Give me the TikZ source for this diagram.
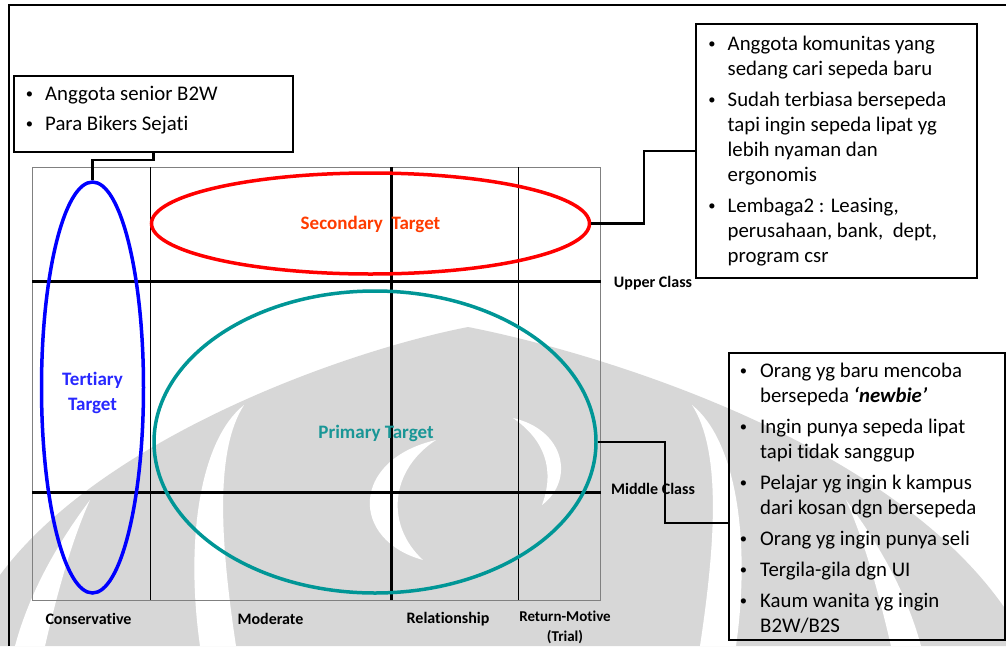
\documentclass[tikz,border=0pt]{standalone}
\usepackage{fontspec}
\setmainfont[Ligatures=NoCommon]{Carlito}
\usetikzlibrary{shapes.geometric,calc}
\definecolor{wm}{RGB}{215,215,215}
\definecolor{tealc}{RGB}{0,150,150}
\definecolor{tealtxt}{RGB}{25,150,150}
\definecolor{redtxt}{RGB}{255,60,0}
\definecolor{bluetxt}{RGB}{40,40,255}
\newcommand\mydot{\raisebox{1.5pt}{\scalebox{0.7}{•}}}
\newcommand\mybul{\llap{\mydot\hspace{12pt}}}
\newcommand\mybulb{\llap{\mydot\hspace{13pt}}}
\begin{document}
\begin{tikzpicture}[x=1pt,y=-1pt,
  box/.style={draw=black, line width=2.4pt, rectangle, inner sep=0pt},
  conn/.style={draw=black, line width=2.4pt},
  btxt/.style={inner sep=0pt, anchor=base west, font=\fontsize{20.8}{25}\selectfont},
  lbl/.style={inner sep=0pt, font=\bfseries\fontsize{16}{18}\selectfont},
  tgt/.style={inner sep=0pt, align=center, font=\bfseries\fontsize{19}{25}\selectfont},
  ell/.style={ellipse, inner sep=0pt, line width=3.5pt}]
\useasboundingbox (0,0) rectangle (1006,646);
\fill[white] (0,0) rectangle (1006,646);
% watermark
\fill[wm] (468,327) .. controls (340,352) and (100,440) .. (0,575) -- (0,646) -- (1006,646) -- (1006,610) .. controls (890,440) and (596,352) .. (468,327) -- cycle;
\fill[white] (244,405) .. controls (200,440) and (185,540) .. (200,646) -- (236,646) .. controls (220,540) and (215,450) .. (244,405) -- cycle;
\fill[white] (692,405) .. controls (736,440) and (751,540) .. (736,646) -- (700,646) .. controls (716,540) and (721,450) .. (692,405) -- cycle;
\fill[white] (90,500) .. controls (60,540) and (30,590) .. (15,646) -- (45,646) .. controls (58,590) and (72,540) .. (90,500) -- cycle;
\fill[white] (846,500) .. controls (876,540) and (906,590) .. (921,646) -- (891,646) .. controls (878,590) and (864,540) .. (846,500) -- cycle;
\fill[white] (436,440) .. controls (350,460) and (350,540) .. (423,560) .. controls (385,525) and (390,470) .. (436,440) -- cycle;
\fill[white] (513,418) .. controls (565,430) and (575,480) .. (542,505) .. controls (555,470) and (545,440) .. (513,418) -- cycle;
% frame
\draw[line width=2pt] (8.5,646) -- (8.5,4.5) -- (1006,4.5);
% grid
\draw[gray, line width=1pt] (32,167) rectangle (600.5,600);
\draw[black, line width=0.8pt] (150.6,167) -- (150.6,600) (518.8,167) -- (518.8,600);
\draw[black, line width=2.6pt] (391.6,167) -- (391.6,600);
\draw[black, line width=3pt] (32,281.7) -- (600.5,281.7) (32,492) -- (600.5,492);
% ellipses
\node[ell, draw=blue, minimum width=102, minimum height=411] (tert) at (92.5,387.5) {};
\node[ell, draw=red, minimum width=438, minimum height=101] (sec) at (370.5,223.5) {};
\node[ell, draw=tealc, minimum width=442, minimum height=302] (prim) at (375,442) {};
\node[tgt, text=bluetxt] (tertl) at (92.5,392.5) {Tertiary\\Target};
\node[tgt, text=redtxt] (secl) at (370.5,224) {Secondary\ \ Target};
\node[tgt, text=tealtxt] (priml) at (376,433) {Primary Target};
% class labels
\node[lbl] (upper) at (653,283) {Upper Class};
\node[lbl] (middle) at (653,489) {Middle Class};
\node[lbl] (cons) at (88.5,619) {Conservative};
\node[lbl] (mod) at (270.5,619) {Moderate};
\node[lbl] (rel) at (448,619) {Relationship};
\node[inner sep=0pt, align=center, font=\bfseries\fontsize{15}{19.5}\selectfont] (ret) at (565,627.5) {Return-Motive\\(Trial)};
% boxes
\node[box, minimum width=279, minimum height=76] (boxTL) at (153.5,114) {};
\node[box, minimum width=281, minimum height=254] (boxTR) at (836.5,151) {};
\node[box, minimum width=276, minimum height=287] (boxBR) at (867,496.5) {};
\node[btxt] (tTL) at (45,100) {\begin{tabular}[t]{@{}l@{}}
\mybul Anggota senior B2W\\[5pt]
\mybul Para Bikers Sejati
\end{tabular}};
\node[btxt] (tTR) at (727.5,50) {\begin{tabular}[t]{@{}l@{}}
\mybul Anggota komunitas yang\\
sedang cari sepeda baru\\[6pt]
\mybul Sudah terbiasa bersepeda\\
tapi ingin sepeda lipat yg\\
lebih nyaman dan\\
ergonomis\\[6pt]
\mybul Lembaga2 : Leasing,\\
perusahaan, bank,\ \ dept,\\
program csr
\end{tabular}};
\node[btxt] (tBR) at (760,377) {\begin{tabular}[t]{@{}l@{}}
\mybulb Orang yg baru mencoba\\
bersepeda \textbf{\textit{‘newbie’}}\\[6pt]
\mybulb Ingin punya sepeda lipat\\
tapi tidak sanggup\\[6pt]
\mybulb Pelajar yg ingin k kampus\\
dari kosan dgn bersepeda\\[6pt]
\mybulb Orang yg ingin punya seli\\[6pt]
\mybulb Tergila-gila dgn UI\\[6pt]
\mybulb Kaum wanita yg ingin\\
B2W/B2S
\end{tabular}};
% connectors
\draw[conn] (boxTL.south) -- ++(0,7) -| (tert.north);
\draw[conn] (sec.east) -- ++(52.5,0) |- (boxTR.west);
\draw[conn] (prim.east) -- ++(67,0) |- ([yshift=-26.5pt]boxBR.west);
\end{tikzpicture}
\end{document}
